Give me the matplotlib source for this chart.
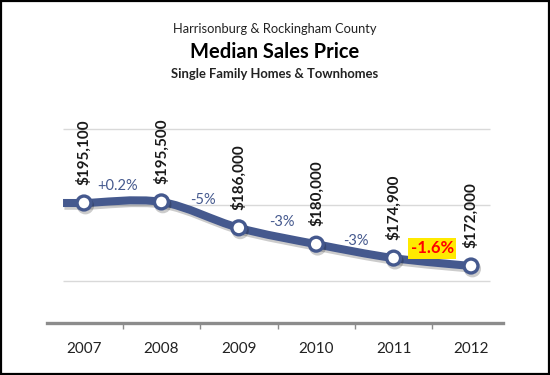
import matplotlib.pyplot as plt
import matplotlib.patheffects as pe
from matplotlib.path import Path
from matplotlib.patches import PathPatch, Rectangle

years = ['2007', '2008', '2009', '2010', '2011', '2012']
prices = [195100, 195500, 186000, 180000, 174900, 172000]
changes = ['+0.2%', '-5%', '-3%', '-3%', '-1.6%']

navy = '#45598E'
plt.rcParams['font.family'] = ['Lato', 'DejaVu Sans']

fig = plt.figure(figsize=(5.5, 3.75), dpi=100)
ax = fig.add_axes([47 / 550, 1 - 323 / 375, 456 / 550, 223 / 375])
ax.set_xlim(-0.478, 5.413)
ax.set_ylim(151100, 232870)

# light horizontal gridlines (plot area is narrower than the axis line)
ax.hlines([166500, 194400, 222300], -0.271, 5.245, color='#D9D9D9', lw=1, zorder=0)

# smoothed line (Catmull-Rom style bezier through the points)
xs = list(range(len(prices)))
pts = [(-0.271, prices[0])] + list(zip(xs, prices))
verts = [pts[0], pts[1]]
codes = [Path.MOVETO, Path.LINETO]
for i in range(1, len(pts) - 1):
    p0 = pts[i - 1]
    p1 = pts[i]
    p2 = pts[i + 1]
    p3 = pts[i + 2] if i + 2 < len(pts) else p2
    c1 = (p1[0] + (p2[0] - p0[0]) / 6, p1[1] + (p2[1] - p0[1]) / 6)
    c2 = (p2[0] - (p3[0] - p1[0]) / 6, p2[1] - (p3[1] - p1[1]) / 6)
    verts += [c1, c2, p2]
    codes += [Path.CURVE4] * 3
curve = PathPatch(Path(verts, codes), fill=False, edgecolor=navy, lw=5.8,
                  capstyle='butt', zorder=3,
                  path_effects=[pe.SimpleLineShadow(offset=(1, -2), alpha=0.2), pe.Normal()])
ax.add_patch(curve)

ax.plot(xs, prices, 'o', ms=10, mfc='white', mec=navy, mew=2.4, zorder=4,
        path_effects=[pe.SimpleLineShadow(offset=(1, -2), alpha=0.2), pe.Normal()])

for x, p in zip(xs, prices):
    ax.annotate(f'${p:,}', (x, p), xytext=(0, 13), textcoords='offset points',
                rotation=90, ha='center', va='bottom', fontsize=11,
                fontweight='bold', color='#1A1A1A', zorder=5)

offsets = [(-4, 12), (2, 11), (3, 10), (1, 7), (0, 10)]
for i, c in enumerate(changes):
    mx = (xs[i] + xs[i + 1]) / 2
    my = (prices[i] + prices[i + 1]) / 2
    if i == len(changes) - 1:
        ax.annotate(c, (mx, my), xytext=offsets[i], textcoords='offset points',
                    ha='center', va='center', fontsize=12, fontweight='bold',
                    color='#FF0000', zorder=5,
                    bbox=dict(boxstyle='square,pad=0.15', fc='#FFEA00', ec='none'))
    else:
        ax.annotate(c, (mx, my), xytext=offsets[i], textcoords='offset points',
                    ha='center', va='center', fontsize=10.5, color=navy, zorder=5)

for s in ['top', 'left', 'right']:
    ax.spines[s].set_visible(False)
ax.spines['bottom'].set_color('#8C8C8C')
ax.spines['bottom'].set_linewidth(2.4)
ax.set_yticks([])
ax.set_xticks([0.5, 1.5, 2.5, 3.5, 4.5])
ax.set_xticklabels([])
ax.tick_params(axis='x', which='major', length=4, width=1, color='#8C8C8C', direction='out')
ax.set_xticks(xs, years, minor=True)
ax.tick_params(axis='x', which='minor', length=0, pad=14, labelsize=11, labelcolor='#222222')

fig.text(0.5, 1 - 29 / 375, 'Harrisonburg & Rockingham County', ha='center', va='center',
         fontsize=9.3, color='#222222')
fig.text(0.5, 1 - 52 / 375, 'Median Sales Price', ha='center', va='center',
         fontsize=14.5, fontweight='bold', color='black')
fig.text(0.5, 1 - 74 / 375, 'Single Family Homes & Townhomes', ha='center', va='center',
         fontsize=9.4, fontweight='bold', color='#222222')

fig.patches.append(Rectangle((0.002, 0.003), 0.996, 0.994, transform=fig.transFigure,
                             fill=False, ec='black', lw=1.6))

fig.savefig('out.png', dpi=100)
